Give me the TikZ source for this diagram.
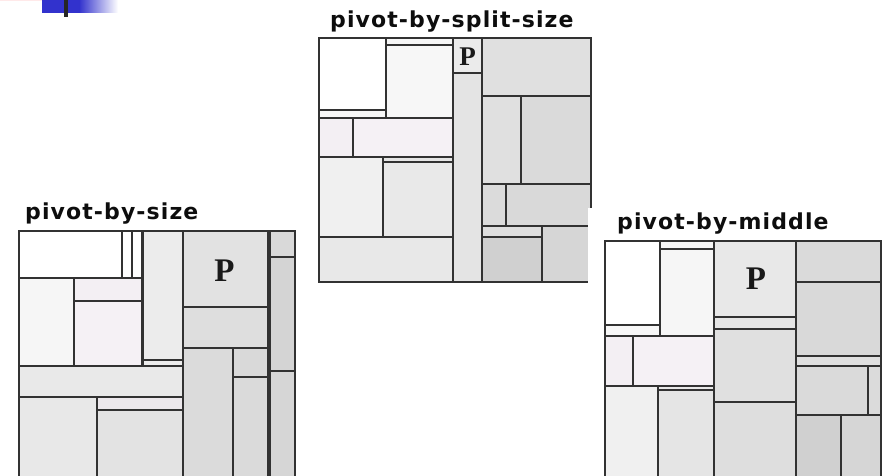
\documentclass[tikz,border=0pt]{standalone}
\usepackage{fontspec}
\newfontfamily\labelfont{DejaVu Sans}[LetterSpace=5]
\newfontfamily\pfont{Liberation Serif}
\definecolor{decoblue}{RGB}{50,50,205}
\definecolor{pinkA}{RGB}{243,239,243}
\definecolor{pinkB}{RGB}{245,241,245}
\definecolor{pinkC}{RGB}{236,232,236}
\definecolor{edge}{RGB}{50,50,50}
% one treemap cell: x1 y1 x2 y2 fill
\newcommand\tmbox[5]{\path[tmcell,fill=#5] (#1,#2) rectangle (#3,#4);}
\begin{document}
\begin{tikzpicture}[x=1pt,y=-1pt,
  tmcell/.style={draw=edge,line width=2pt},
  frame/.style={draw=edge,line width=2.2pt},
  lbl/.style={inner sep=0pt,font=\labelfont\bfseries\fontsize{22}{22}\selectfont,text=black!95},
  pivot/.style={inner sep=0pt,font=\pfont\bfseries,text=black!90}]
\useasboundingbox (0,0) rectangle (886,476);
\clip (0,0) rectangle (886,476);

% corner decoration
\fill[pink!35] (0,0) rectangle (57,1.2);
\fill[decoblue] (42,0) rectangle (79,13);
\shade[left color=decoblue,right color=white] (79,0) rectangle (118,13);
\fill[black!85] (64,0) rectangle (68,17);

% ---------- pivot-by-split-size ----------
\tmbox{319.3}{38.3}{386}{110}{white}
\tmbox{319.3}{110}{386}{118.3}{black!3}
\tmbox{386}{38.3}{452.7}{45}{black!3.5}
\tmbox{386}{45}{452.7}{118.3}{black!3}
\tmbox{319.3}{118.3}{352.7}{156.7}{pinkA}
\tmbox{352.7}{118.3}{452.7}{156.7}{pinkB}
\tmbox{319.3}{156.7}{383.3}{237.3}{black!6}
\tmbox{383.3}{156.7}{452.7}{162}{black!10}
\tmbox{383.3}{162}{452.7}{237.3}{black!8.6}
\tmbox{319.3}{237.3}{452.7}{281.7}{black!9}
\tmbox{452.7}{38.3}{481.7}{73.3}{black!8}
\tmbox{452.7}{73.3}{481.7}{281.7}{black!10.6}
\tmbox{481.7}{38.3}{591}{96}{black!12}
\tmbox{481.7}{96}{520.7}{184}{black!12}
\tmbox{520.7}{96}{591}{184}{black!14.5}
\tmbox{481.7}{184}{505.7}{225.7}{black!14}
\tmbox{505.7}{184}{591}{225.7}{black!15}
\tmbox{481.7}{225.7}{542.3}{237.3}{black!13}
\tmbox{481.7}{237.3}{542.3}{281.7}{black!18.4}
\tmbox{542.3}{225.7}{591}{281.7}{black!16}
\path[frame] (319.3,38.3) rectangle (591,281.7);
\node[pivot,font=\pfont\bfseries\fontsize{27}{27}\selectfont] (p2) at (467.5,57) {P};
\node[lbl,anchor=base west] (l2) at (330,28) {pivot-by-split-size};

% ---------- pivot-by-size ----------
\fill[white] (0,195) rectangle (305,476);
\tmbox{19.3}{231}{122.3}{277.7}{white}
\tmbox{122.3}{231}{132.3}{277.7}{white}
\tmbox{132.3}{231}{142.7}{277.7}{white}
\tmbox{19.3}{277.7}{74.3}{366}{black!3.5}
\tmbox{74.3}{277.7}{142.7}{300.7}{pinkA}
\tmbox{74.3}{300.7}{142.7}{366}{pinkB}
\tmbox{142.7}{231}{182.7}{360}{black!7.5}
\tmbox{142.7}{360}{182.7}{366}{black!7.5}
\tmbox{19.3}{366}{182.7}{397.3}{black!8.6}
\tmbox{19.3}{397.3}{96.7}{490}{black!9}
\tmbox{96.7}{397.3}{182.7}{410}{pinkC}
\tmbox{96.7}{410}{182.7}{490}{black!11}
\tmbox{182.7}{231}{268.3}{307.3}{black!11.5}
\tmbox{182.7}{307.3}{268.3}{348.3}{black!13}
\tmbox{182.7}{348.3}{232.7}{490}{black!14}
\tmbox{232.7}{348.3}{268.3}{376.7}{black!15}
\tmbox{232.7}{376.7}{268.3}{490}{black!14.5}
\tmbox{270}{231}{295}{257.3}{black!15}
\tmbox{270}{257.3}{295}{370.7}{black!17}
\tmbox{270}{370.7}{295}{490}{black!16}
\draw[edge,line width=3.2pt] (269.3,231) -- (269.3,490);
\draw[edge,line width=2.8pt] (142.7,231) -- (142.7,366);
\path[frame] (19.3,231) rectangle (295,490);
\node[pivot,font=\pfont\bfseries\fontsize{33}{33}\selectfont] (p1) at (224.5,270.5) {P};
\node[lbl,anchor=base west] (l1) at (25,219) {pivot-by-size};

% ---------- pivot-by-middle ----------
\fill[white] (588,208) rectangle (886,476);
\tmbox{605}{241}{660}{325}{white}
\tmbox{605}{325}{660}{336}{black!3}
\tmbox{660}{241}{714.3}{249}{black!3.5}
\tmbox{660}{249}{714.3}{336}{black!3.5}
\tmbox{605}{336}{632.7}{386}{pinkA}
\tmbox{632.7}{336}{714.3}{386}{pinkB}
\tmbox{605}{386}{657.7}{490}{black!6}
\tmbox{657.7}{386}{714.3}{390}{black!9}
\tmbox{657.7}{390}{714.3}{490}{black!10}
\tmbox{714.3}{241}{796}{317.3}{black!9}
\tmbox{714.3}{317.3}{796}{329.3}{black!10}
\tmbox{714.3}{329.3}{796}{401.7}{black!12}
\tmbox{714.3}{401.7}{796}{490}{black!13}
\tmbox{796}{241}{881}{281.7}{black!14.5}
\tmbox{796}{281.7}{881}{356}{black!15}
\tmbox{796}{356}{881}{366}{black!12}
\tmbox{796}{366}{868.3}{415}{black!14.5}
\tmbox{868.3}{366}{881}{415}{black!14}
\tmbox{796}{415}{841}{490}{black!18.4}
\tmbox{841}{415}{881}{490}{black!16}
\path[frame] (605,241) rectangle (881,490);
\node[pivot,font=\pfont\bfseries\fontsize{33}{33}\selectfont] (p3) at (756,279) {P};
\node[lbl,anchor=base west] (l3) at (617,229.5) {pivot-by-middle};
\end{tikzpicture}
\end{document}
